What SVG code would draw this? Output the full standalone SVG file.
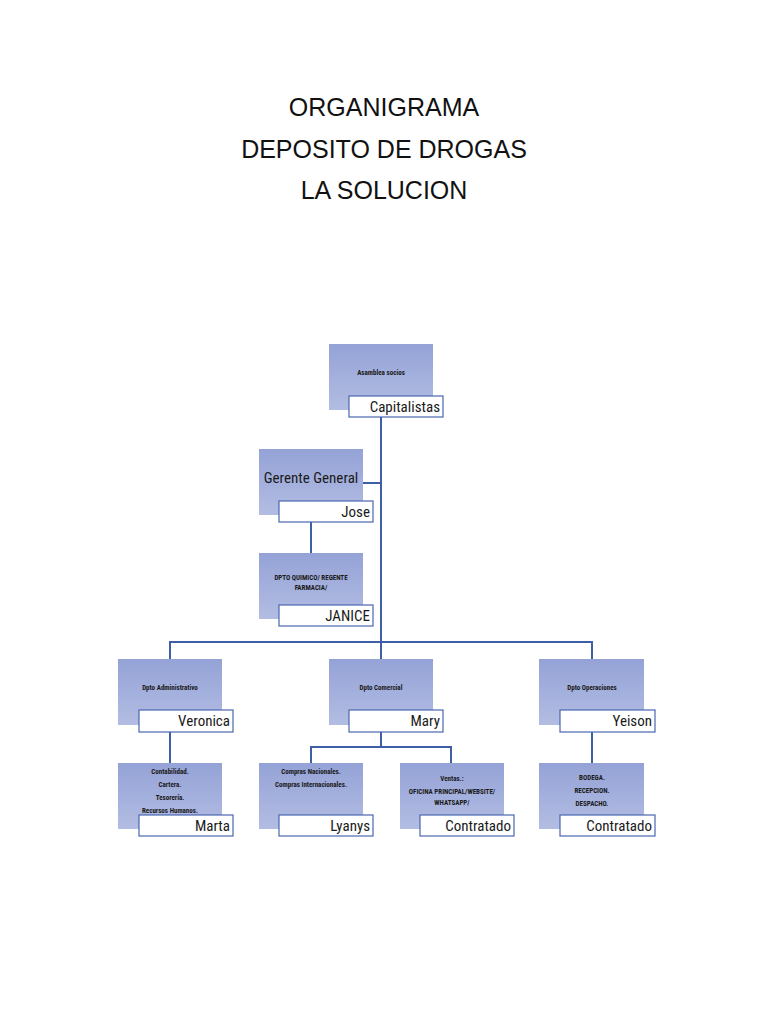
<svg xmlns="http://www.w3.org/2000/svg" width="768" height="1024" viewBox="0 0 768 1024">
<defs>
<linearGradient id="g" x1="0" y1="0" x2="0" y2="1">
<stop offset="0" stop-color="#94a2d6"/>
<stop offset="1" stop-color="#b3bde3"/>
</linearGradient>
<style>
.box{fill:url(#g);}
.lab{fill:#ffffff;stroke:#4a66b0;stroke-width:1.2;}
.t{font-family:"Liberation Sans Narrow","Roboto Condensed","Liberation Sans",sans-serif;fill:#1a1a1a;}
.n{font-size:15px;text-anchor:end;}
.s{font-size:7px;text-anchor:middle;font-weight:bold;}
.title{font-family:"Liberation Sans",Arial,sans-serif;font-size:25px;text-anchor:middle;fill:#111;}
.c{stroke:#3f5ea8;stroke-width:2;fill:none;}
</style>
</defs>
<rect width="768" height="1024" fill="#ffffff"/>
<g id="title">
<text class="title" x="384" y="116">ORGANIGRAMA</text>
<text class="title" x="384" y="158">DEPOSITO DE DROGAS</text>
<text class="title" x="384" y="199">LA SOLUCION</text>
</g>
<g id="connectors">
<path class="c" d="M381 417V642"/>
<path class="c" d="M363 483H381"/>
<path class="c" d="M311 522V553"/>
<path class="c" d="M170 659V642H592V659"/>
<path class="c" d="M381 642V659"/>
<path class="c" d="M170 732V763"/>
<path class="c" d="M381 732V747"/>
<path class="c" d="M311 763V747H451V763"/>
<path class="c" d="M592 732V763"/>
</g>
<g id="asamblea">
<rect class="box" x="329" y="344" width="104" height="66"/>
<text class="t s" x="381" y="375">Asamblea socios</text>
<rect class="lab" x="349" y="396" width="94" height="21"/>
<text class="t n" x="440" y="412">Capitalistas</text>
</g>
<g id="gerente">
<rect class="box" x="259" y="449" width="104" height="66"/>
<text class="t" x="311" y="483" style="font-size:15px;text-anchor:middle">Gerente General</text>
<rect class="lab" x="279" y="501" width="94" height="21"/>
<text class="t n" x="370" y="517">Jose</text>
</g>
<g id="quimico">
<rect class="box" x="259" y="553" width="104" height="66"/>
<text class="t s" x="311" y="580">DPTO QUIMICO/ REGENTE</text>
<text class="t s" x="311" y="590">FARMACIA/</text>
<rect class="lab" x="279" y="605" width="94" height="21"/>
<text class="t n" x="370" y="621">JANICE</text>
</g>
<g id="administrativo">
<rect class="box" x="118" y="659" width="104" height="66"/>
<text class="t s" x="170" y="690">Dpto Administrativo</text>
<rect class="lab" x="139" y="710" width="94" height="22"/>
<text class="t n" x="230" y="726">Veronica</text>
</g>
<g id="comercial">
<rect class="box" x="329" y="659" width="104" height="66"/>
<text class="t s" x="381" y="690">Dpto Comercial</text>
<rect class="lab" x="349" y="710" width="94" height="22"/>
<text class="t n" x="440" y="726">Mary</text>
</g>
<g id="operaciones">
<rect class="box" x="539" y="659" width="105" height="66"/>
<text class="t s" x="592" y="690">Dpto Operaciones</text>
<rect class="lab" x="560" y="710" width="95" height="22"/>
<text class="t n" x="652" y="726">Yeison</text>
</g>
<g id="contabilidad">
<rect class="box" x="118" y="763" width="104" height="66"/>
<text class="t s" x="170" y="774">Contabilidad.</text>
<text class="t s" x="170" y="787">Cartera.</text>
<text class="t s" x="170" y="800">Tesorería.</text>
<text class="t s" x="170" y="813">Recursos Humanos.</text>
<rect class="lab" x="139" y="815" width="94" height="21"/>
<text class="t n" x="230" y="831">Marta</text>
</g>
<g id="compras">
<rect class="box" x="259" y="763" width="104" height="66"/>
<text class="t s" x="311" y="774">Compras Nacionales.</text>
<text class="t s" x="311" y="787">Compras Internacionales.</text>
<rect class="lab" x="279" y="815" width="94" height="21"/>
<text class="t n" x="370" y="831">Lyanys</text>
</g>
<g id="ventas">
<rect class="box" x="400" y="763" width="104" height="66"/>
<text class="t s" x="452" y="781">Ventas.:</text>
<text class="t s" x="452" y="794">OFICINA PRINCIPAL/WEBSITE/</text>
<text class="t s" x="452" y="805">WHATSAPP/</text>
<rect class="lab" x="420" y="815" width="94" height="21"/>
<text class="t n" x="511" y="831">Contratado</text>
</g>
<g id="bodega">
<rect class="box" x="539" y="763" width="105" height="66"/>
<text class="t s" x="592" y="780">BODEGA.</text>
<text class="t s" x="592" y="793">RECEPCION.</text>
<text class="t s" x="592" y="806">DESPACHO.</text>
<rect class="lab" x="560" y="815" width="95" height="21"/>
<text class="t n" x="652" y="831">Contratado</text>
</g>
</svg>
